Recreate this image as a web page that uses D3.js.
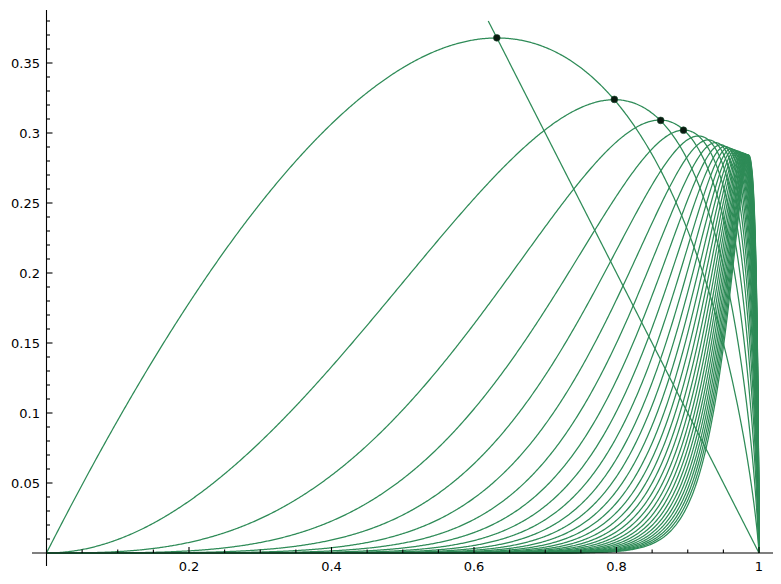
<!DOCTYPE html>
<html><head><meta charset="utf-8">
<script src="https://cdn.jsdelivr.net/npm/d3@7"></script>
<style>body{margin:0;background:#fff}svg{display:block}</style>
</head><body>
<svg id="c" width="781" height="584"></svg>
<script>
// curve parameters n (one curve per n): f_n(x) = n(1-x) * sum_{k>=n} x^k / k
const curveN = [1,2,3,4,5,6,7,8,9,10,11,12,13,14,15,16,17,18,19,20,21,22,23,24,25,26,27,28,29,30];
// maxima points marked with dots
const dotX = [0.632, 0.797, 0.862, 0.894];
const dotY = [0.368, 0.324, 0.309, 0.302];
// straight line y = 1 - x
const lineX = [0.62, 1];
const lineY = [0.38, 0];
const xMajor = [0.2, 0.4, 0.6, 0.8, 1];
const xMajorLabels = ["0.2", "0.4", "0.6", "0.8", "1"];
const xMinor = [0.05,0.1,0.15,0.25,0.3,0.35,0.45,0.5,0.55,0.65,0.7,0.75,0.85,0.9,0.95];
const yMajor = [0.05,0.1,0.15,0.2,0.25,0.3,0.35];
const yMajorLabels = ["0.05","0.1","0.15","0.2","0.25","0.3","0.35"];

const svg = d3.select("#c");
const x = d3.scaleLinear().domain([0, 1]).range([46.5, 759]);
const y = d3.scaleLinear().domain([0, 0.35]).range([553, 63]);
const green = "#2e8b57";

function f(n, t) {
  if (t >= 1) return 0;
  let s;
  if (t < 0.6) {
    s = 0; let p = Math.pow(t, n);
    for (let k = n; k < 2000; k++) { const term = p / k; s += term; if (term < 1e-17) break; p *= t; }
  } else {
    s = -Math.log(1 - t); let p = t;
    for (let k = 1; k < n; k++) { s -= p / k; p *= t; }
  }
  return n * (1 - t) * s;
}
const xs = d3.range(0, 0.99, 0.0015).concat(d3.range(0.99, 1, 0.0002)).concat([0.99995, 0.99999, 1]);
const lineGen = d3.line().x(d => x(d[0])).y(d => y(d[1]));

const g = svg.append("g");
curveN.forEach(n => {
  const pts = xs.map(t => [t, f(n, t)]);
  g.append("path").attr("d", lineGen(pts)).attr("fill", "none")
    .attr("stroke", green).attr("stroke-width", 1.25);
});
g.append("path").attr("d", lineGen(lineX.map((v, i) => [v, lineY[i]])))
  .attr("fill", "none").attr("stroke", green).attr("stroke-width", 1.25);
g.selectAll("circle").data(dotX).join("circle")
  .attr("cx", d => x(d)).attr("cy", (d, i) => y(dotY[i])).attr("r", 3.4)
  .attr("fill", "#0a1a10").attr("stroke", "#1b4d30").attr("stroke-width", 0.6);

// axes
const ax = svg.append("g").attr("stroke", "#000").attr("stroke-width", 1.1);
ax.append("line").attr("x1", 32).attr("x2", 773).attr("y1", y(0)).attr("y2", y(0));
ax.append("line").attr("x1", x(0)).attr("x2", x(0)).attr("y1", 10).attr("y2", 566);
xMajor.forEach(v => ax.append("line").attr("x1", x(v)).attr("x2", x(v)).attr("y1", y(0)).attr("y2", y(0) - 6));
xMinor.forEach(v => ax.append("line").attr("x1", x(v)).attr("x2", x(v)).attr("y1", y(0)).attr("y2", y(0) - 3.5));
yMajor.forEach(v => ax.append("line").attr("x1", x(0)).attr("x2", x(0) + 6).attr("y1", y(v)).attr("y2", y(v)));
const yMinor = d3.range(1, 39).map(i => i / 100).filter(v => Math.abs(v * 20 - Math.round(v * 20)) > 1e-6);
yMinor.forEach(v => ax.append("line").attr("x1", x(0)).attr("x2", x(0) + 3.5).attr("y1", y(v)).attr("y2", y(v)));

const lab = svg.append("g").attr("font-family", "DejaVu Sans, sans-serif").attr("font-size", 13).attr("fill", "#000");
xMajor.forEach((v, i) => lab.append("text").attr("x", x(v)).attr("y", 571).attr("text-anchor", "middle").text(xMajorLabels[i]));
yMajor.forEach((v, i) => lab.append("text").attr("x", 40).attr("y", y(v) + 4.7).attr("text-anchor", "end").text(yMajorLabels[i]));
</script>
</body></html>
